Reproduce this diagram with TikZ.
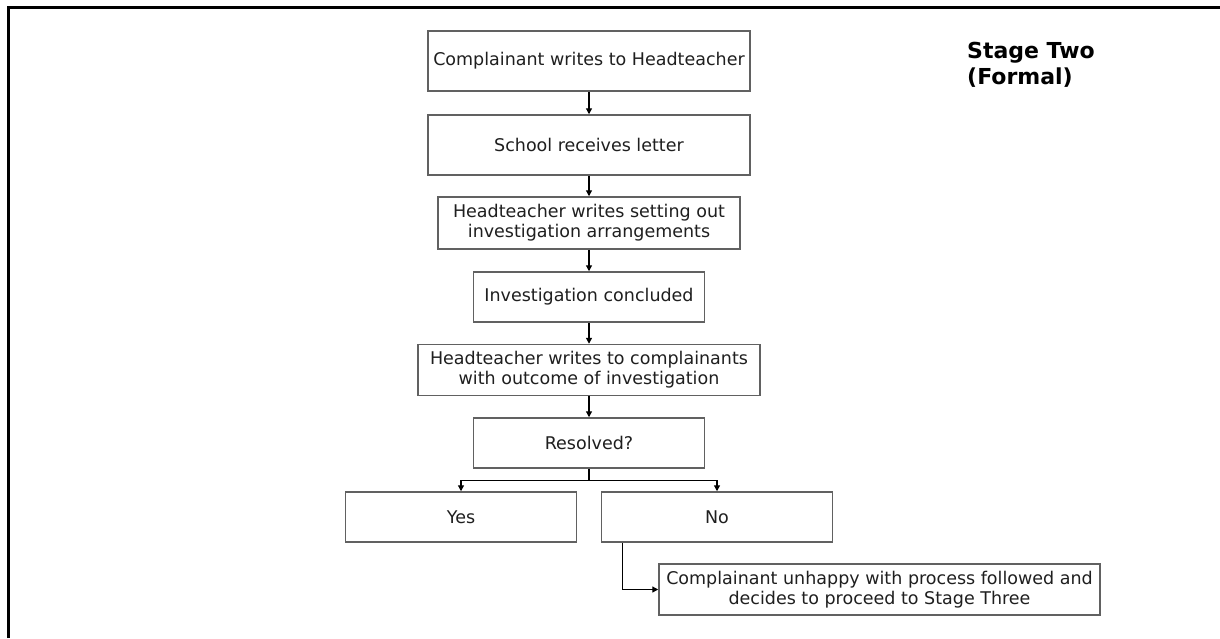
\documentclass[tikz,border=0pt]{standalone}
\usepackage{fontspec}
\setmainfont{DejaVu Sans}
\usepackage{tikz}
\usetikzlibrary{arrows.meta}
\tikzset{
  stepbox/.style={draw=black!62, line width=1.5pt, fill=white, align=center, inner sep=0pt,
    text=black!88, font=\fontsize{17.5}{20}\selectfont},
  flow/.style={line width=1.3pt, draw=black, -{Triangle[length=6pt,width=6pt]}},
  stagelabel/.style={align=left, inner sep=0pt, font=\bfseries\fontsize{22}{26}\selectfont},
  frameline/.style={line width=3pt, draw=black},
}

\begin{document}
\begin{tikzpicture}[x=1pt, y=-1pt]
\useasboundingbox (0,0) rectangle (1220,638);
\draw[frameline] (8,638) -- (8,7) -- (1220,7);
\node[stagelabel, anchor=north west] (stage) at (967,42) {Stage Two\\(Formal)};
% main column
\node[stepbox, minimum width=322pt, minimum height=60pt] (writes) at (589,61) {Complainant writes to Headteacher};
\node[stepbox, minimum width=322pt, minimum height=60pt] (receives) at (589,145) {School receives letter};
\node[stepbox, minimum width=302pt, minimum height=52pt] (arrange) at (589,223) {Headteacher writes setting out\\investigation arrangements};
\node[stepbox, minimum width=231pt, minimum height=50pt] (concluded) at (589,297) {Investigation concluded};
\node[stepbox, minimum width=342pt, minimum height=51pt] (outcome) at (589,370) {Headteacher writes to complainants\\with outcome of investigation};
\node[stepbox, minimum width=231pt, minimum height=50pt] (resolved) at (589,443) {Resolved?};
% answers
\node[stepbox, minimum width=231pt, minimum height=50pt] (yes) at (461,517) {Yes};
\node[stepbox, minimum width=231pt, minimum height=50pt] (no) at (717,517) {No};
\node[stepbox, minimum width=441pt, minimum height=51pt] (unhappy) at (879.5,589.5) {Complainant unhappy with process followed and\\decides to proceed to Stage Three};
% connectors
\draw[flow] (writes) -- (receives);
\draw[flow] (receives) -- (arrange);
\draw[flow] (arrange) -- (concluded);
\draw[flow] (concluded) -- (outcome);
\draw[flow] (outcome) -- (resolved);
\draw[flow] (resolved.south) -- ++(0,12) -| (yes.north);
\draw[flow] (resolved.south) -- ++(0,12) -| (no.north);
\draw[flow] ([xshift=22pt]no.south west) |- (unhappy.west);
\end{tikzpicture}
\end{document}
